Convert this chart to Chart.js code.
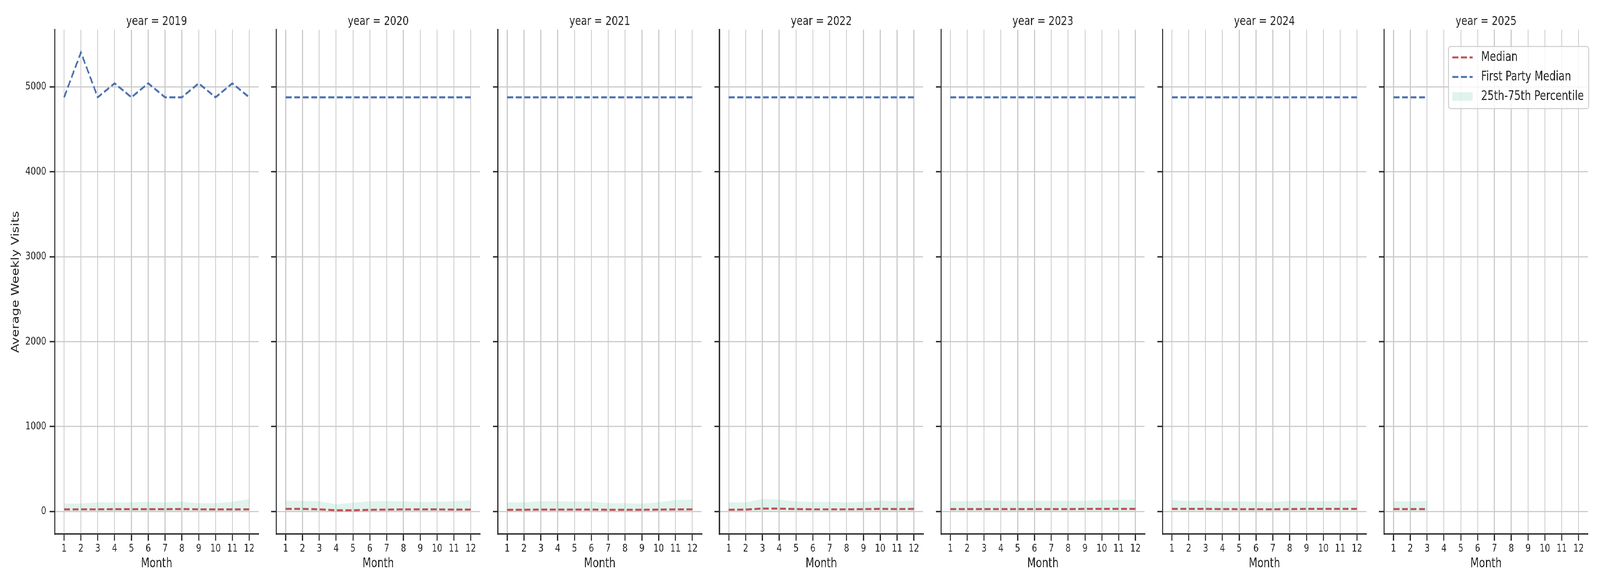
<!DOCTYPE html>
<html>
<head>
<meta charset="utf-8">
<script src="https://cdn.jsdelivr.net/npm/chart.js@4.4.1/dist/chart.umd.min.js"></script>
<style>
  html, body { margin: 0; background: #fff; overflow: hidden; }
  #wrap { position: absolute; left: 0; top: 0; width: 5250px; height: 1500px; transform-origin: 0 0; }
  #wrap canvas { position: absolute; top: 0; }
</style>
</head>
<body>
<div id="wrap"></div>
<script>
// Datos del gráfico
const years = [2019, 2020, 2021, 2022, 2023, 2024, 2025];
const months = [1, 2, 3, 4, 5, 6, 7, 8, 9, 10, 11, 12];
const yTicks = [0, 1000, 2000, 3000, 4000, 5000];

const medianVals = [
    [25, 26, 26, 28, 28, 28, 28, 29, 26, 25, 25, 26],
    [31, 31, 26, 15, 15, 20, 23, 25, 25, 25, 23, 23],
    [20, 21, 23, 23, 23, 23, 21, 21, 21, 23, 25, 26],
    [21, 23, 35, 34, 29, 26, 26, 26, 28, 31, 29, 31],
    [29, 29, 29, 29, 29, 29, 29, 29, 31, 31, 31, 31],
    [31, 31, 31, 29, 28, 28, 26, 29, 31, 31, 31, 31],
    [29, 29, 29]
];
const firstPartyVals = [
    [4877, 5406, 4877, 5041, 4877, 5041, 4877, 4877, 5041, 4877, 5041, 4877],
    [4877, 4877, 4877, 4877, 4877, 4877, 4877, 4877, 4877, 4877, 4877, 4877],
    [4877, 4877, 4877, 4877, 4877, 4877, 4877, 4877, 4877, 4877, 4877, 4877],
    [4877, 4877, 4877, 4877, 4877, 4877, 4877, 4877, 4877, 4877, 4877, 4877],
    [4877, 4877, 4877, 4877, 4877, 4877, 4877, 4877, 4877, 4877, 4877, 4877],
    [4877, 4877, 4877, 4877, 4877, 4877, 4877, 4877, 4877, 4877, 4877, 4877],
    [4877, 4877, 4877]
];
const p25Vals = [
    [6, 6, 6, 6, 6, 6, 6, 6, 6, 6, 6, 6],
    [6, 6, 6, 5, 5, 6, 6, 6, 6, 6, 6, 6],
    [6, 6, 6, 6, 6, 6, 6, 6, 6, 6, 6, 6],
    [6, 6, 7, 7, 6, 6, 6, 6, 6, 6, 6, 6],
    [6, 6, 6, 6, 6, 6, 6, 6, 6, 6, 6, 6],
    [6, 6, 6, 6, 6, 6, 6, 6, 6, 6, 6, 6],
    [6, 6, 6]
];
const p75Vals = [
    [94, 95, 107, 109, 109, 113, 107, 117, 98, 100, 115, 147],
    [127, 126, 120, 86, 103, 121, 121, 120, 113, 115, 120, 132],
    [107, 109, 121, 120, 117, 117, 97, 98, 94, 109, 135, 140],
    [107, 107, 149, 140, 118, 113, 113, 109, 113, 129, 121, 130],
    [123, 121, 130, 127, 126, 126, 126, 126, 127, 135, 138, 140],
    [135, 124, 132, 118, 120, 117, 112, 126, 121, 121, 126, 135],
    [123, 118, 126]
];

const ROJO = '#c44e52';
const AZUL = '#4c72b0';
const BANDA = 'rgba(102,194,165,0.2)';
const TEXTO = '#262626';
const GRILLA = '#cccccc';

Chart.defaults.font.family = 'DejaVu Sans';
Chart.defaults.color = TEXTO;

// Ajustar el dibujo de 5250x1500 a la ventana real
const wrap = document.getElementById('wrap');
const sx = (window.innerWidth || 5250) / 5250;
const sy = (window.innerHeight || 1500) / 1500;
wrap.style.transform = `scale(${sx}, ${sy})`;

// Leyenda dibujada dentro del último panel
const leyendaPlugin = {
    id: 'leyenda',
    afterDraw(chart) {
        const ctx = chart.ctx;
        const area = chart.chartArea;
        const w = 460, h = 159;
        const x = area.right + 3 - w;
        const y = area.top + 43;
        ctx.save();
        ctx.beginPath();
        ctx.roundRect(x, y, w, h, 7);
        ctx.fillStyle = 'rgba(255,255,255,0.8)';
        ctx.fill();
        ctx.lineWidth = 2.5;
        ctx.strokeStyle = GRILLA;
        ctx.stroke();

        const items = [
            { text: 'Median', color: ROJO, type: 'line' },
            { text: 'First Party Median', color: AZUL, type: 'line' },
            { text: '25th-75th Percentile', color: BANDA, type: 'patch' }
        ];
        ctx.font = '33px "DejaVu Sans"';
        ctx.textBaseline = 'middle';
        items.forEach((it, i) => {
            const cy = y + 28 + i * 50;
            if (it.type === 'line') {
                ctx.beginPath();
                ctx.setLineDash([19.5, 8.5]);
                ctx.lineWidth = 5.2;
                ctx.strokeStyle = it.color;
                ctx.moveTo(x + 13, cy);
                ctx.lineTo(x + 79, cy);
                ctx.stroke();
                ctx.setLineDash([]);
            } else {
                ctx.fillStyle = it.color;
                ctx.fillRect(x + 13, cy - 11, 66, 22);
            }
            ctx.fillStyle = TEXTO;
            ctx.fillText(it.text, x + 107, cy);
        });
        ctx.restore();
    }
};

function serie(vals) {
    return vals.map((v, i) => ({ x: months[i], y: v }));
}

function crearPanel(idx) {
    const canvas = document.createElement('canvas');
    canvas.width = 860;
    canvas.height = 1500;
    canvas.style.width = '860px';
    canvas.style.height = '1500px';
    canvas.style.left = (idx * 726.95) + 'px';
    wrap.appendChild(canvas);

    const esPrimero = idx === 0;
    const esUltimo = idx === years.length - 1;

    new Chart(canvas.getContext('2d'), {
        type: 'line',
        data: {
            datasets: [
                {
                    label: 'Median',
                    data: serie(medianVals[idx]),
                    borderColor: ROJO,
                    borderWidth: 5.2,
                    borderDash: [19.5, 8.5],
                    pointRadius: 0,
                    fill: false
                },
                {
                    label: 'First Party Median',
                    data: serie(firstPartyVals[idx]),
                    borderColor: AZUL,
                    borderWidth: 5.2,
                    borderDash: [19.5, 8.5],
                    pointRadius: 0,
                    fill: false
                },
                {
                    label: 'p25',
                    data: serie(p25Vals[idx]),
                    borderWidth: 0,
                    borderColor: 'rgba(0,0,0,0)',
                    pointRadius: 0,
                    fill: false
                },
                {
                    label: '25th-75th Percentile',
                    data: serie(p75Vals[idx]),
                    borderWidth: 0,
                    borderColor: 'rgba(0,0,0,0)',
                    backgroundColor: BANDA,
                    pointRadius: 0,
                    fill: '-1'
                }
            ]
        },
        options: {
            responsive: false,
            animation: false,
            devicePixelRatio: 1,
            layout: { padding: { left: 0, right: 12, top: 0, bottom: 0 } },
            plugins: {
                legend: { display: false },
                tooltip: { enabled: false },
                title: {
                    display: true,
                    text: 'year = ' + years[idx],
                    fullSize: false,
                    font: { size: 32, weight: 'normal' },
                    color: TEXTO,
                    padding: { top: 36, bottom: 1.6 }
                }
            },
            scales: {
                x: {
                    type: 'linear',
                    min: 0.45,
                    max: 12.55,
                    afterBuildTicks: s => { s.ticks = months.map(v => ({ value: v })); },
                    afterFit: s => { s.height = 133; },
                    ticks: {
                        autoSkip: false,
                        maxRotation: 0,
                        includeBounds: false,
                        padding: 5,
                        font: { size: 27 },
                        color: TEXTO
                    },
                    grid: {
                        color: GRILLA,
                        lineWidth: 3,
                        tickColor: TEXTO,
                        tickWidth: 3.5,
                        tickLength: 17
                    },
                    border: { display: true, color: TEXTO, width: 3.5 },
                    title: {
                        display: true,
                        text: 'Month',
                        font: { size: 33 },
                        color: TEXTO,
                        padding: { top: 0, bottom: 37 }
                    }
                },
                y: {
                    min: -265,
                    max: 5673,
                    afterBuildTicks: s => { s.ticks = yTicks.map(v => ({ value: v })); },
                    afterFit: s => { s.width = 180; },
                    ticks: {
                        padding: 11,
                        font: { size: 27 },
                        color: TEXTO,
                        callback: v => esPrimero ? String(v) : ''
                    },
                    grid: {
                        color: GRILLA,
                        lineWidth: 3,
                        tickColor: TEXTO,
                        tickWidth: 3.5,
                        tickLength: 17
                    },
                    border: { display: true, color: TEXTO, width: 3.5 },
                    title: {
                        display: esPrimero,
                        text: 'Average Weekly Visits',
                        font: { size: 33 },
                        color: TEXTO,
                        padding: { top: 33, bottom: 0 }
                    }
                }
            }
        },
        plugins: esUltimo ? [leyendaPlugin] : []
    });
}

years.forEach((y, i) => crearPanel(i));
</script>
</body>
</html>
